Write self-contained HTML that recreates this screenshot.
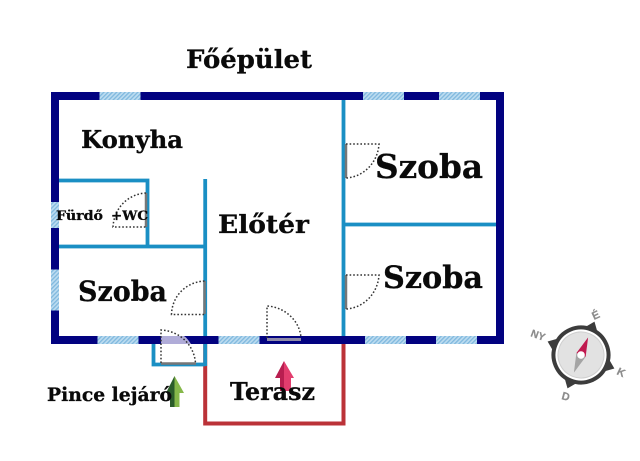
<!DOCTYPE html>
<html><head><meta charset="utf-8"><style>html,body{margin:0;padding:0;background:#fff}svg{display:block}text{font-family:"DejaVu Serif",serif;font-weight:bold;fill:#0a0a0a;stroke:#0a0a0a;stroke-width:.3px}text.c{font-family:"Liberation Sans",sans-serif;fill:#8c8c8c;stroke:#8c8c8c;stroke-width:.2px}</style></head><body>
<svg width="640" height="461" viewBox="0 0 640 461" xmlns="http://www.w3.org/2000/svg">
<defs><pattern id="h" width="3" height="3" patternUnits="userSpaceOnUse" patternTransform="rotate(45)"><rect width="3" height="3" fill="#bcdcf0"/><rect width="1.3" height="3" fill="#7fb8de"/></pattern></defs>
<!-- terrace -->
<path d="M205.200 344V423.500H343.500V344" fill="none" stroke="#bb3238" stroke-width="4"/>
<!-- inner walls -->
<g fill="none" stroke="#1a8fc4" stroke-width="3.800">
<path d="M59 180.500H147.500V246.500M59 246.500H205.200M205.200 179V366M343.500 100V336M343 224.500H497M153.500 344V364.500H205.200"/>
</g>
<!-- outer walls -->
<rect x="55" y="96" width="445" height="244" fill="none" stroke="#020280" stroke-width="8"/>
<!-- windows -->
<g fill="url(#h)">
<rect x="99.500" y="92" width="41" height="8"/><rect x="363" y="92" width="41" height="8"/><rect x="439" y="92" width="41" height="8"/>
<rect x="97.500" y="336" width="41" height="8"/><rect x="218.500" y="336" width="41" height="8"/><rect x="365" y="336" width="41" height="8"/><rect x="436" y="336" width="41" height="8"/>
<rect x="51" y="202" width="8" height="26"/><rect x="51" y="269.500" width="8" height="41"/>
</g>
<!-- stair door fill -->
<path d="M161 336V344H191C189 341 187 338 184 336Z" fill="#b0acd8"/>
<!-- door leaves -->
<g stroke="#777" stroke-width="2.500" fill="none">
<path d="M146 193V227"/><path d="M204.500 281V314"/><path d="M346 144V178"/><path d="M346 275V309"/><path d="M267 339.500H301" stroke="#8f8ba8" stroke-width="3"/><path d="M161 363.500H196"/>
</g>
<!-- door swings -->
<g fill="none" stroke="#333" stroke-width="1.500" stroke-dasharray="1.600 2">
<path d="M146 193C128 194 114 208 113 227H146"/>
<path d="M204.500 281C186 282 172 296 171.500 314.500H204.500"/>
<path d="M346 144H379C378 162 364 177 346 178"/>
<path d="M346 275H379C378 293 364 308 346 309"/>
<path d="M267 338V306C285 307 300 321 301 338"/>
<path d="M161 363V330C180 331 194 345 195.500 363"/>
</g>
<!-- labels -->
<text x="186" y="68" font-size="25" textLength="126" lengthAdjust="spacingAndGlyphs">Főépület</text>
<text x="81" y="148" font-size="24" textLength="102" lengthAdjust="spacingAndGlyphs">Konyha</text>
<text x="56" y="220" font-size="13" textLength="47" lengthAdjust="spacingAndGlyphs">Fürdő</text>
<text x="111" y="220" font-size="13" textLength="37" lengthAdjust="spacingAndGlyphs">+WC</text>
<text x="218" y="233" font-size="25" textLength="91" lengthAdjust="spacingAndGlyphs">Előtér</text>
<text x="375" y="178" font-size="33" textLength="108" lengthAdjust="spacingAndGlyphs">Szoba</text>
<text x="383" y="288" font-size="31" textLength="100" lengthAdjust="spacingAndGlyphs">Szoba</text>
<text x="78" y="301" font-size="28" textLength="89" lengthAdjust="spacingAndGlyphs">Szoba</text>
<!-- arrows -->
<path d="M174.500 376L184 393H179.500V407H174.500Z" fill="#86b84a"/>
<path d="M174.500 376L166 393H170V407H174.500Z" fill="#2b5c2a"/>
<text x="47" y="401" font-size="19" textLength="125" lengthAdjust="spacingAndGlyphs">Pince lejáró</text>
<path d="M284 361L275 378H280V391H284Z" fill="#b81e50"/>
<path d="M284 361L294 378H291V391H284Z" fill="#e23d6e"/>
<text x="230" y="400" font-size="24" textLength="85" lengthAdjust="spacingAndGlyphs">Terasz</text>
<!-- compass -->
<g transform="translate(581 355) rotate(22)">
<path d="M-7 -27L0 -36L7 -27Z M27 -7L36 0L27 7Z M-7 27L0 36L7 27Z M-27 -7L-36 0L-27 7Z" fill="#3c3c3c"/>
<circle r="27.500" fill="#fff" stroke="#3c3c3c" stroke-width="4"/>
<circle r="23" fill="#e2e2e2" stroke="#cfcfcf"/>
<path d="M0 -19L-5 0H5Z" fill="#c0194f"/>
<path d="M0 19L-5 0H5Z" fill="#a4a4a4"/>
<circle r="3.800" fill="#fff"/>
</g>
<text class="c" transform="translate(594 320) rotate(-25)" font-size="11">É</text>
<text class="c" transform="translate(530 336) rotate(20)" font-size="10.500">NY</text>
<text class="c" transform="translate(616 374) rotate(25)" font-size="11">K</text>
<text class="c" transform="translate(561 399) rotate(15)" font-size="11">D</text>
</svg>
</body></html>
